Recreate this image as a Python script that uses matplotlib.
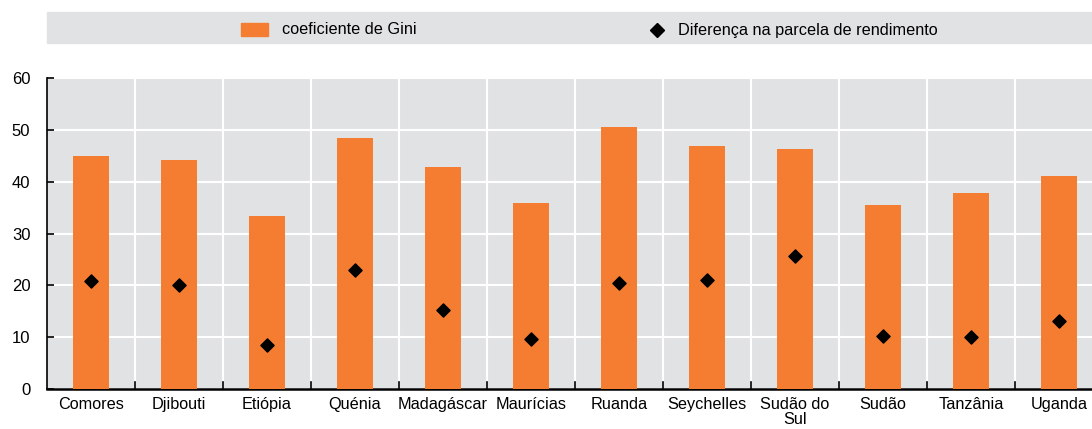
import numpy as np
import matplotlib.pyplot as plt
from matplotlib.patches import Rectangle
from matplotlib.lines import Line2D

plt.rcParams['font.family'] = ['Liberation Sans', 'DejaVu Sans']

countries = ['Comores', 'Djibouti', 'Etiópia', 'Quénia', 'Madagáscar', 'Maurícias',
             'Ruanda', 'Seychelles', 'Sudão do\nSul', 'Sudão', 'Tanzânia', 'Uganda']
gini = [45.0, 44.1, 33.3, 48.5, 42.8, 35.8, 50.5, 46.8, 46.3, 35.5, 37.9, 41.1]
income_gap = [20.8, 20.1, 8.5, 22.9, 15.2, 9.6, 20.5, 21.0, 25.6, 10.3, 10.0, 13.1]

ORANGE = '#f47d31'
GREY = '#e1e2e4'

fig = plt.figure(figsize=(10.92, 4.29), dpi=100)
W, H = 1092, 429
ax = fig.add_axes([47 / W, (H - 389) / H, 1056 / W, 311 / H])
ax.set_facecolor(GREY)

x = np.arange(len(countries))
ax.bar(x, gini, width=0.4, color=ORANGE, zorder=3)
ax.scatter(x, income_gap, marker='D', s=45, color='black', zorder=4)

ax.set_xlim(-0.5, len(countries) - 0.5)
ax.set_ylim(0, 60)
ax.set_yticks(range(0, 61, 10))
ax.set_xticks(x)
ax.set_xticklabels(countries, fontsize=11.7, linespacing=1.0)
ax.tick_params(axis='x', length=0, pad=6)
ax.tick_params(axis='y', direction='in', length=5, labelsize=12, pad=12, width=1.2)
for lab in ax.get_yticklabels():
    lab.set_verticalalignment('center_baseline')

# category boundaries: white vertical grid + small ticks on the x axis
bounds = np.arange(len(countries) + 1) - 0.5
for b in bounds[1:-1]:
    ax.axvline(b, color='white', lw=1.5, zorder=1)
    ax.plot([b, b], [0, 1.3], color='black', lw=1.2, zorder=5, clip_on=False)
ax.yaxis.grid(True, color='white', lw=1.5, zorder=1)
ax.set_axisbelow(True)

for side in ['top', 'right']:
    ax.spines[side].set_visible(False)
ax.spines['left'].set_linewidth(1.2)
ax.spines['bottom'].set_linewidth(1.8)

# legend band
fig.patches.append(Rectangle((47 / W, (H - 43) / H), 1045 / W, 31 / H,
                             transform=fig.transFigure, color=GREY, zorder=0))
fig.patches.append(Rectangle((241 / W, (H - 36) / H), 27 / W, 13 / H,
                             transform=fig.transFigure, color=ORANGE, zorder=1))
fig.text(282 / W, (H - 30) / H, 'coeficiente de Gini', fontsize=11.7, va='center')
fig.lines.append(Line2D([657 / W], [(H - 30) / H], marker='D', markersize=7,
                        color='black', transform=fig.transFigure))
fig.text(678 / W, (H - 30) / H, 'Diferença na parcela de rendimento', fontsize=11.7, va='center')

fig.savefig('out.png', dpi=100)
